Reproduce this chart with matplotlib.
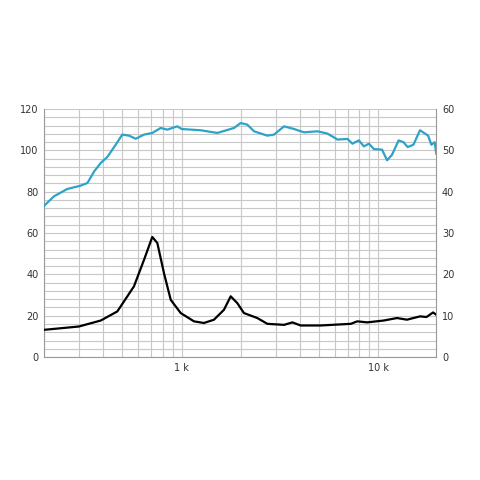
import numpy as np
import matplotlib.pyplot as plt
from matplotlib.ticker import FixedLocator, NullFormatter

spl_freq = [200, 224, 262, 306, 332, 359, 388, 419, 462, 499, 540, 584, 644, 709, 782, 846, 950, 1000,
            1249, 1518, 1845, 1995, 2157, 2333, 2726, 2948, 3314, 3727, 4190, 4897, 5509, 6194, 6965,
            7375, 7960, 8436, 8950, 9490, 10440, 11070, 11740, 12670, 13430, 14080, 15070, 16270,
            17890, 18590, 19320, 19690]
spl_db = [73.2, 77.7, 81.3, 82.9, 84.2, 89.8, 93.9, 96.8, 102.7, 107.6, 107.1, 105.6, 107.6, 108.4,
          110.8, 110.0, 111.6, 110.3, 109.7, 108.4, 110.8, 113.2, 112.4, 109.2, 107.1, 107.6, 111.6,
          110.3, 108.7, 109.2, 108.1, 105.2, 105.5, 103.2, 104.8, 101.9, 103.2, 100.6, 100.3, 95.2,
          97.9, 104.8, 103.9, 101.6, 102.7, 109.7, 107.1, 102.7, 103.9, 98.4]

imp_freq = [200, 300, 388, 471, 572, 644, 709, 752, 813, 880, 989, 1155, 1298, 1460, 1641, 1775,
            1918, 2073, 2424, 2726, 3314, 3655, 4025, 5089, 7238, 7810, 8780, 10650, 12430, 13970,
            16270, 17570, 18960, 19690]
# impedance in ohms (right axis, 0-60)
imp_ohm = [6.6, 7.4, 8.85, 11.05, 17.1, 23.55, 29.05, 27.6, 20.3, 13.85, 10.65, 8.65, 8.25, 9.05,
           11.45, 14.7, 13.05, 10.65, 9.45, 8.05, 7.8, 8.4, 7.65, 7.65, 8.05, 8.65, 8.4, 8.85, 9.45,
           9.05, 9.85, 9.7, 10.8, 10.25]

fig = plt.figure(figsize=(4.8, 4.8), dpi=100)
ax = fig.add_axes([0.092, 0.256, 0.817, 0.517])
ax.set_xscale("log")
ax.set_xlim(200, 19700)
ax.set_ylim(0, 120)

ax.plot(spl_freq, spl_db, color="#2ea3c8", lw=1.6, zorder=3)
ax2 = ax.twinx()
ax2.set_ylim(0, 60)
ax2.plot(imp_freq, imp_ohm, color="black", lw=1.6, zorder=3)

ax.set_yticks(np.arange(0, 121, 20))
ax.yaxis.set_minor_locator(FixedLocator(np.arange(0, 121, 4)))
ax2.set_yticks(np.arange(0, 61, 10))
ax.set_xticks([1000, 10000])
ax.set_xticklabels(["1 k", "10 k"])
minor = [m * d for d in (100, 1000, 10000) for m in range(1, 10)]
ax.xaxis.set_minor_locator(FixedLocator(minor))
ax.xaxis.set_minor_formatter(NullFormatter())
ax.grid(True, which="both", color="#c8c8c8", lw=0.8)

for a in (ax, ax2):
    a.tick_params(which="both", length=0, labelsize=7, colors="#333333", pad=4)
    for s in a.spines.values():
        s.set_visible(False)
ax.spines["left"].set_visible(True)
ax.spines["bottom"].set_visible(True)
ax.spines["left"].set_color("#999999")
ax.spines["bottom"].set_color("#999999")
ax2.spines["right"].set_visible(True)
ax2.spines["right"].set_color("#999999")

fig.savefig("out.png", dpi=100)
